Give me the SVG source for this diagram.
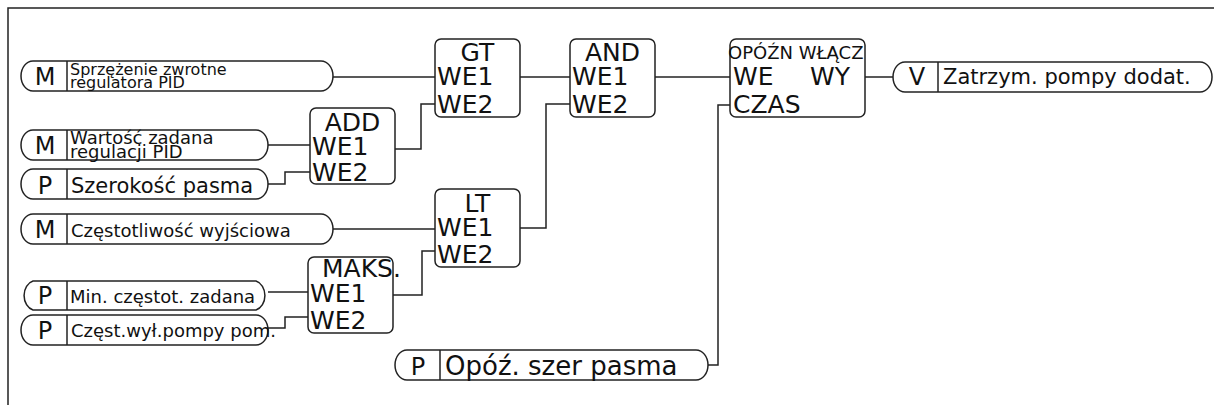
<svg xmlns="http://www.w3.org/2000/svg" width="1214" height="405" viewBox="0 0 1214 405">
<style>
text{font-family:"DejaVu Sans","Liberation Sans",sans-serif;fill:#111}
.ln{fill:none;stroke:#222;stroke-width:1.5}
.bx{fill:#fff;stroke:#222;stroke-width:1.5}
.pl{fill:#fff;stroke:#222;stroke-width:1.5}
.b{font-size:25px}
.k{font-size:24px;text-anchor:middle}
</style>
<rect x="8" y="8" width="1230" height="420" fill="none" stroke="#222" stroke-width="1.5"/>
<g id="connectors" class="ln">
<polyline points="333,77 435,77"/>
<polyline points="268,145 310,145"/>
<polyline points="268,184 285,184 285,172 310,172"/>
<polyline points="395,149 421,149 421,104 435,104"/>
<polyline points="520,77 570,77"/>
<polyline points="333,229 435,229"/>
<polyline points="268,292 308,292"/>
<polyline points="268,328 285,328 285,317 308,317"/>
<polyline points="393,295 422,295 422,251 435,251"/>
<polyline points="520,228 546,228 546,104 570,104"/>
<polyline points="655,77 730,77"/>
<polyline points="708,365 718,365 718,105 730,105"/>
<polyline points="865,77 893,77"/>
</g>
<g id="in1">
<path class="pl" d="M33,61 H321 A12,15 0 0 1 321,91 H33 A12,15 0 0 1 33,61 Z"/>
<line class="ln" x1="67" y1="61" x2="67" y2="91"/>
<text class="k" x="45" y="85">M</text>
<text x="70" y="75" font-size="16">Sprzężenie zwrotne</text>
<text x="70" y="88" font-size="16">regulatora PID</text>
</g>
<g id="in2">
<path class="pl" d="M33,130 H256 A12,15 0 0 1 256,160 H33 A12,15 0 0 1 33,130 Z"/>
<line class="ln" x1="67" y1="130" x2="67" y2="160"/>
<text class="k" x="45" y="154">M</text>
<text x="70" y="144" font-size="18">Wartość zadana</text>
<text x="70" y="158" font-size="18">regulacji PID</text>
</g>
<g id="in3">
<path class="pl" d="M33,169 H256 A12,15 0 0 1 256,199 H33 A12,15 0 0 1 33,169 Z"/>
<line class="ln" x1="67" y1="169" x2="67" y2="199"/>
<text class="k" x="45" y="194">P</text>
<text x="71" y="193" font-size="21">Szerokość pasma</text>
</g>
<g id="in4">
<path class="pl" d="M33,214 H321 A12,15 0 0 1 321,244 H33 A12,15 0 0 1 33,214 Z"/>
<line class="ln" x1="67" y1="214" x2="67" y2="244"/>
<text class="k" x="45" y="238">M</text>
<text x="71" y="237" font-size="18">Częstotliwość wyjściowa</text>
</g>
<g id="in5">
<path class="pl" d="M33,281 H256 A12,15 0 0 1 256,310 H33 A12,15 0 0 1 33,281 Z"/>
<line class="ln" x1="67" y1="281" x2="67" y2="310"/>
<text class="k" x="45" y="304">P</text>
<text x="70" y="303" font-size="18">Min. częstot. zadana</text>
</g>
<g id="in6">
<path class="pl" d="M33,315 H256 A12,15 0 0 1 256,345 H33 A12,15 0 0 1 33,315 Z"/>
<line class="ln" x1="67" y1="315" x2="67" y2="345"/>
<text class="k" x="45" y="339">P</text>
<text x="71" y="337" font-size="18">Częst.wył.pompy pom.</text>
</g>
<g id="in7">
<path class="pl" d="M407,350 H696 A12,15 0 0 1 696,380 H407 A12,15 0 0 1 407,350 Z"/>
<line class="ln" x1="440" y1="350" x2="440" y2="380"/>
<text class="k" x="418" y="375">P</text>
<text x="445" y="375" font-size="26">Opóź. szer pasma</text>
</g>
<g id="out1">
<path class="pl" d="M905,62 H1200 A12,15 0 0 1 1200,92 H905 A12,15 0 0 1 905,62 Z"/>
<line class="ln" x1="938" y1="62" x2="938" y2="92"/>
<text class="k" x="917" y="85">V</text>
<text x="943" y="84" font-size="21">Zatrzym. pompy dodat.</text>
</g>
<g id="gt">
<rect class="bx" x="435" y="39" width="85" height="78" rx="6"/>
<text class="b" x="477.5" y="61" text-anchor="middle">GT</text>
<text class="b" x="437" y="85">WE1</text>
<text class="b" x="437" y="113">WE2</text>
</g>
<g id="and">
<rect class="bx" x="570" y="39" width="85" height="78" rx="6"/>
<text class="b" x="612.5" y="61" text-anchor="middle">AND</text>
<text class="b" x="572" y="85">WE1</text>
<text class="b" x="572" y="113">WE2</text>
</g>
<g id="add">
<rect class="bx" x="310" y="108" width="85" height="76" rx="6"/>
<text class="b" x="352.5" y="131" text-anchor="middle">ADD</text>
<text class="b" x="312" y="155">WE1</text>
<text class="b" x="312" y="181">WE2</text>
</g>
<g id="lt">
<rect class="bx" x="435" y="189" width="85" height="78" rx="6"/>
<text class="b" x="477.5" y="212" text-anchor="middle">LT</text>
<text class="b" x="437" y="236">WE1</text>
<text class="b" x="437" y="263">WE2</text>
</g>
<g id="maks">
<rect class="bx" x="308" y="257" width="85" height="76" rx="6"/>
<text class="b" x="322" y="277">MAKS.</text>
<text class="b" x="310" y="302">WE1</text>
<text class="b" x="310" y="329">WE2</text>
</g>
<g id="delay">
<rect class="bx" x="730" y="39" width="135" height="78" rx="6"/>
<text x="728" y="59" font-size="18">OPÓŹN WŁĄCZ</text>
<text class="b" x="733" y="85">WE</text>
<text class="b" x="850" y="85" text-anchor="end">WY</text>
<text class="b" x="733" y="113">CZAS</text>
</g>
</svg>
